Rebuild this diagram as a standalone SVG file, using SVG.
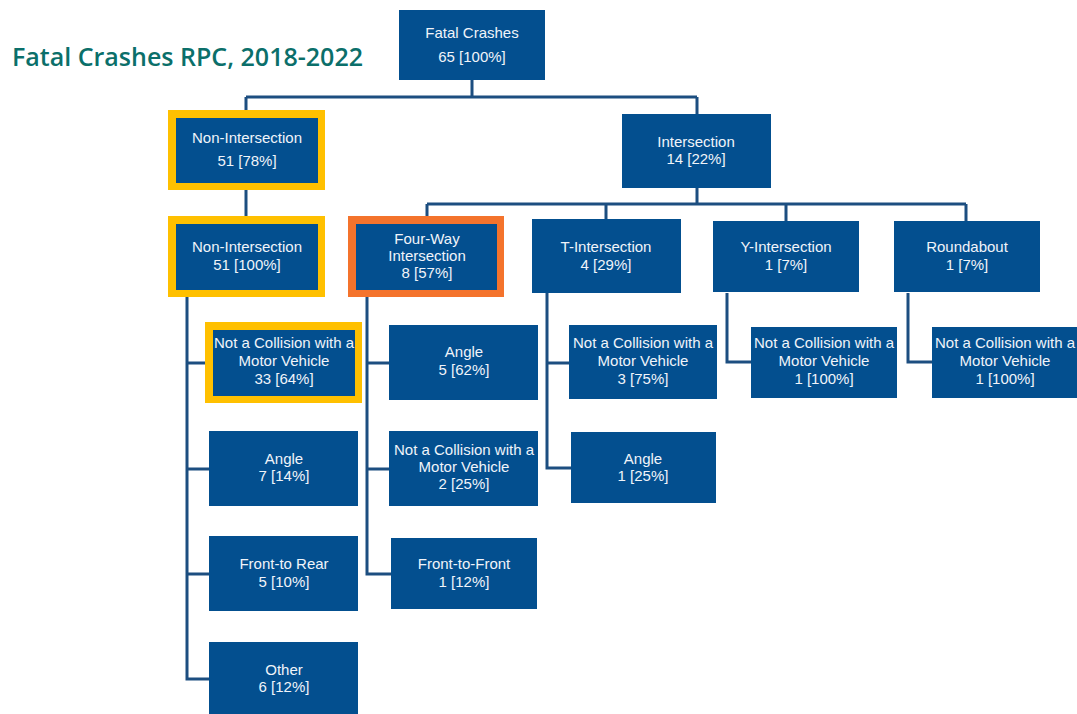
<svg xmlns="http://www.w3.org/2000/svg" width="1077" height="714" viewBox="0 0 1077 714">
<style>
.bx{fill:#034F8F;}
.yl{fill:#FFC000;}
.or{fill:#F4732C;}
.t{font-family:"Liberation Sans",Arial,sans-serif;font-size:15px;fill:#F0F4FA;text-anchor:middle;}
.c{fill:none;stroke:#1C4E80;stroke-width:3;}
.title{font-family:"Open Sans","Liberation Sans",sans-serif;font-weight:600;font-size:25px;fill:#0B6F6A;}
</style>
<rect width="1077" height="714" fill="#ffffff"/>
<text class="title" x="12" y="66" textLength="351" lengthAdjust="spacingAndGlyphs">Fatal Crashes RPC, 2018-2022</text>
<g id="connectors">
<path class="c" d="M472 80V97M246 97H697M246 97V110M697 97V114"/>
<path class="c" d="M246 190V216"/>
<path class="c" d="M697 188V204M427 204H966M427 204V216M606 204V219M786 204V221M966 204V221"/>
<path class="c" d="M187 297V679H209M187 363H205M187 469H209M187 574H209"/>
<path class="c" d="M367 297V574H391M367 363H389M367 469H389"/>
<path class="c" d="M547 293V468H571M547 363H569"/>
<path class="c" d="M727 293V362H751"/>
<path class="c" d="M908 293V362H932"/>
</g>
<g id="n-fatal"><rect class="bx" x="399" y="10" width="146" height="70"/><text class="t" x="472" y="38">Fatal Crashes</text><text class="t" x="472" y="62">65 [100%]</text></g>
<g id="n-nonint1"><rect class="yl" x="168" y="110" width="157" height="80"/><rect class="bx" x="176" y="118" width="142" height="65"/><text class="t" x="247" y="143">Non-Intersection</text><text class="t" x="247" y="166">51 [78%]</text></g>
<g id="n-int"><rect class="bx" x="622" y="114" width="149" height="74"/><text class="t" x="696" y="147">Intersection</text><text class="t" x="696" y="164">14 [22%]</text></g>
<g id="n-nonint2"><rect class="yl" x="168" y="216" width="157" height="81"/><rect class="bx" x="176" y="224" width="142" height="66"/><text class="t" x="247" y="252">Non-Intersection</text><text class="t" x="247" y="270">51 [100%]</text></g>
<g id="n-fourway"><rect class="or" x="348" y="216" width="156" height="81"/><rect class="bx" x="356" y="224" width="141" height="66"/><text class="t" x="427" y="244">Four-Way</text><text class="t" x="427" y="261">Intersection</text><text class="t" x="427" y="278">8 [57%]</text></g>
<g id="n-t"><rect class="bx" x="532" y="219" width="149" height="74"/><text class="t" x="606" y="252">T-Intersection</text><text class="t" x="606" y="270">4 [29%]</text></g>
<g id="n-y"><rect class="bx" x="713" y="221" width="146" height="71"/><text class="t" x="786" y="252">Y-Intersection</text><text class="t" x="786" y="270">1 [7%]</text></g>
<g id="n-round"><rect class="bx" x="894" y="221" width="146" height="71"/><text class="t" x="967" y="252">Roundabout</text><text class="t" x="967" y="270">1 [7%]</text></g>
<g id="n-ni-notcol"><rect class="yl" x="205" y="322" width="157" height="81"/><rect class="bx" x="213" y="330" width="142" height="66"/><text class="t" x="284" y="348">Not a Collision with a</text><text class="t" x="284" y="366">Motor Vehicle</text><text class="t" x="284" y="384">33 [64%]</text></g>
<g id="n-ni-angle"><rect class="bx" x="209" y="431" width="149" height="75"/><text class="t" x="284" y="464">Angle</text><text class="t" x="284" y="481">7 [14%]</text></g>
<g id="n-ni-rear"><rect class="bx" x="209" y="536" width="149" height="75"/><text class="t" x="284" y="569">Front-to Rear</text><text class="t" x="284" y="587">5 [10%]</text></g>
<g id="n-ni-other"><rect class="bx" x="209" y="642" width="149" height="72"/><text class="t" x="284" y="675">Other</text><text class="t" x="284" y="692">6 [12%]</text></g>
<g id="n-fw-angle"><rect class="bx" x="389" y="325" width="149" height="75"/><text class="t" x="464" y="357">Angle</text><text class="t" x="464" y="375">5 [62%]</text></g>
<g id="n-fw-notcol"><rect class="bx" x="389" y="431" width="149" height="75"/><text class="t" x="464" y="455">Not a Collision with a</text><text class="t" x="464" y="472">Motor Vehicle</text><text class="t" x="464" y="489">2 [25%]</text></g>
<g id="n-fw-front"><rect class="bx" x="391" y="538" width="146" height="71"/><text class="t" x="464" y="569">Front-to-Front</text><text class="t" x="464" y="587">1 [12%]</text></g>
<g id="n-t-notcol"><rect class="bx" x="569" y="325" width="148" height="74"/><text class="t" x="643" y="348">Not a Collision with a</text><text class="t" x="643" y="366">Motor Vehicle</text><text class="t" x="643" y="384">3 [75%]</text></g>
<g id="n-t-angle"><rect class="bx" x="571" y="432" width="145" height="71"/><text class="t" x="643" y="464">Angle</text><text class="t" x="643" y="481">1 [25%]</text></g>
<g id="n-y-notcol"><rect class="bx" x="751" y="327" width="146" height="71"/><text class="t" x="824" y="348">Not a Collision with a</text><text class="t" x="824" y="366">Motor Vehicle</text><text class="t" x="824" y="384">1 [100%]</text></g>
<g id="n-r-notcol"><rect class="bx" x="932" y="327" width="145" height="71"/><text class="t" x="1005" y="348">Not a Collision with a</text><text class="t" x="1005" y="366">Motor Vehicle</text><text class="t" x="1005" y="384">1 [100%]</text></g>
</svg>
